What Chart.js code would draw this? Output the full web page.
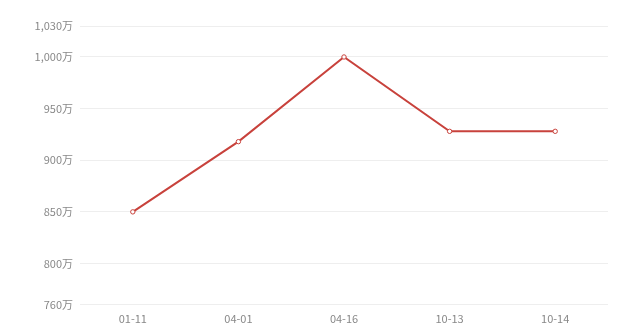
<!DOCTYPE html>
<html>
<head>
<meta charset="utf-8">
<script src="https://cdn.jsdelivr.net/npm/chart.js@4/dist/chart.umd.min.js"></script>
<style>
  html, body { margin: 0; padding: 0; background: #fff; }
  #wrap { width: 625px; height: 332px; }
</style>
</head>
<body>
<div id="wrap"><canvas id="chart"></canvas></div>
<script>
// Dates on the x axis
const dates = ['01-11', '04-01', '04-16', '10-13', '10-14'];
// Values in 万
const values = [850, 918, 1000, 928, 928];
// Y axis ticks shown on the left
const yTicks = [760, 800, 850, 900, 950, 1000, 1030];

const lineColor = '#c8423c';

const ctx = document.getElementById('chart').getContext('2d');
new Chart(ctx, {
    type: 'line',
    data: {
        labels: dates,
        datasets: [{
            data: values,
            borderColor: lineColor,
            borderWidth: 2,
            backgroundColor: '#fff',
            pointBackgroundColor: '#fff',
            pointBorderColor: lineColor,
            pointBorderWidth: 1,
            pointRadius: 2.2,
            tension: 0,
            fill: false
        }]
    },
    options: {
        responsive: true,
        maintainAspectRatio: false,
        animation: false,
        layout: {
            padding: { top: 26, right: 17, bottom: 0, left: 0 }
        },
        plugins: {
            legend: { display: false },
            tooltip: { enabled: false }
        },
        scales: {
            x: {
                offset: true,
                grid: { display: false, drawTicks: false },
                border: { display: false },
                ticks: {
                    color: '#888',
                    padding: 7,
                    font: { family: '"Noto Sans CJK SC", "Noto Sans", sans-serif', size: 11 }
                }
            },
            y: {
                min: 760,
                max: 1030,
                afterBuildTicks: scale => {
                    scale.ticks = yTicks.map(v => ({ value: v }));
                },
                afterFit: scale => {
                    scale.width = 80;
                },
                grid: { color: '#eeeeee', drawTicks: false },
                border: { display: false },
                ticks: {
                    color: '#888',
                    padding: 7,
                    font: { family: '"Noto Sans CJK SC", "Noto Sans", sans-serif', size: 11 },
                    callback: v => v.toLocaleString('en-US') + '万'
                }
            }
        }
    }
});
</script>
</body>
</html>
